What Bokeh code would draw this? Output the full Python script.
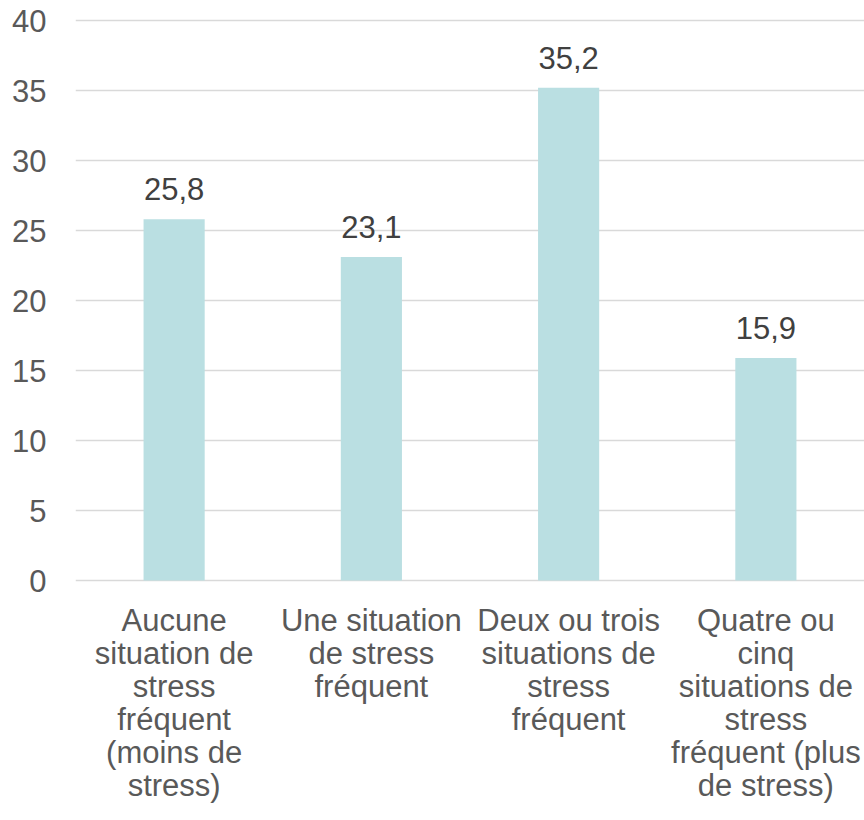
from bokeh.plotting import figure
from bokeh.models import ColumnDataSource, LabelSet, Range1d, FactorRange, FixedTicker
from bokeh.core.properties import value
from bokeh.embed import file_html
from bokeh.resources import INLINE

categories = [
    "Aucune\nsituation de\nstress\nfréquent\n(moins de\nstress)",
    "Une situation\nde stress\nfréquent",
    "Deux ou trois\nsituations de\nstress\nfréquent",
    "Quatre ou\ncinq\nsituations de\nstress\nfréquent (plus\nde stress)",
]
values = [25.8, 23.1, 35.2, 15.9]
value_labels = ["25,8", "23,1", "35,2", "15,9"]
y_ticks = [0, 5, 10, 15, 20, 25, 30, 35, 40]

FONT = "Liberation Sans"
FS = "31px"
LINE_H = 33
FIRST_OFF = -50

# frame spans the whole height: 14 px per unit, 0 at y=580, 40 at y=20
PX_PER_UNIT = 14.0
p = figure(
    x_range=FactorRange(factors=categories, range_padding=0),
    y_range=Range1d(-240 / PX_PER_UNIT, 40 + 20 / PX_PER_UNIT),
    width=864, height=820,
    output_backend="svg", toolbar_location=None,
    min_border_left=75, min_border_right=0, min_border_top=0, min_border_bottom=0,
)
p.outline_line_color = None
p.background_fill_color = "white"
p.border_fill_color = "white"

src = ColumnDataSource(dict(x=categories, top=values, lab=value_labels))
p.vbar(x="x", top="top", width=0.31, source=src, fill_color="#BADFE2", line_color=None)

p.add_layout(LabelSet(x="x", y="top", text="lab", source=src, y_offset=19,
                      text_align="center", text_baseline="alphabetic",
                      text_font=value(FONT), text_font_size=FS, text_color="#404040"))

# category labels, one line at a time
lx, ly, lt, lo = [], [], [], []
for c in categories:
    for k, line in enumerate(c.split("\n")):
        lx.append(c); ly.append(0); lt.append(line); lo.append(FIRST_OFF - LINE_H * k)
csrc = ColumnDataSource(dict(x=lx, y=ly, t=lt, o=lo))
p.add_layout(LabelSet(x="x", y="y", text="t", y_offset="o", source=csrc,
                      text_align="center", text_baseline="alphabetic",
                      text_font=value(FONT), text_font_size=FS, text_color="#595959"))

p.yaxis.ticker = FixedTicker(ticks=y_ticks)
p.yaxis.axis_line_color = None
p.yaxis.major_tick_line_color = None
p.yaxis.minor_tick_line_color = None
p.yaxis.major_label_standoff = 23
p.yaxis.major_label_text_font = FONT
p.yaxis.major_label_text_font_size = FS
p.yaxis.major_label_text_color = "#595959"

p.xaxis.visible = False

p.xgrid.grid_line_color = None
p.ygrid.ticker = FixedTicker(ticks=y_ticks)
p.ygrid.grid_line_color = "#D9D9D9"
p.ygrid.grid_line_width = 1.5

open("out.html", "w").write(file_html(p, INLINE))
